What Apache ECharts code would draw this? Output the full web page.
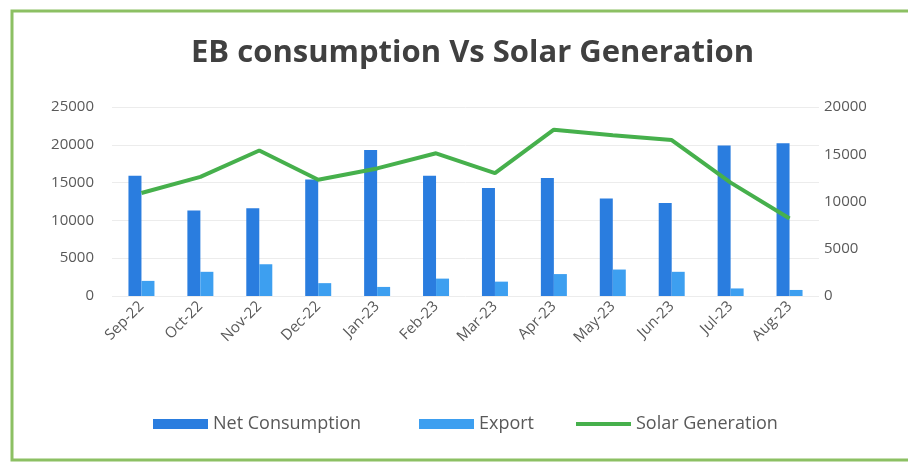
<!DOCTYPE html>
<html>
<head>
<meta charset="utf-8">
<script src="https://cdn.jsdelivr.net/npm/echarts@6/dist/echarts.min.js"></script>
<style>html,body{margin:0;padding:0;background:#fff;}#c{width:908px;height:462px;}</style>
</head>
<body>
<div id="c"></div>
<script>
const categories = ['Sep-22','Oct-22','Nov-22','Dec-22','Jan-23','Feb-23','Mar-23','Apr-23','May-23','Jun-23','Jul-23','Aug-23'];
const netConsumption = [15900, 11300, 11600, 15400, 19300, 15900, 14300, 15600, 12900, 12300, 19900, 20200];
const exportValues = [2000, 3200, 4200, 1700, 1200, 2300, 1900, 2900, 3500, 3200, 1000, 800];
const solarGeneration = [10900, 12600, 15400, 12300, 13500, 15100, 13000, 17600, 17000, 16500, 12000, 8200];
const leftTicks = [0, 5000, 10000, 15000, 20000, 25000];
const rightTicks = [0, 5000, 10000, 15000, 20000];

const chart = echarts.init(document.getElementById('c'), null, {renderer: 'canvas'});
const font = '"Open Sans", Lato, sans-serif';
const legendBase = {
  bottom: 24,
  itemWidth: 55,
  itemHeight: 10,
  textStyle: {fontFamily: font, fontSize: 18, color: '#595959'}
};
chart.setOption({
  animation: false,
  backgroundColor: '#ffffff',
  title: {
    text: 'EB consumption Vs Solar Generation',
    left: 186,
    top: 33,
    textStyle: {fontFamily: font, fontSize: 31, fontWeight: 'bold', color: '#404040'}
  },
  graphic: [{
    type: 'rect',
    shape: {x: 12, y: 11, width: 900, height: 449},
    style: {fill: 'none', stroke: '#8cc063', lineWidth: 3},
    silent: true
  }],
  legend: [
    Object.assign({}, legendBase, {left: 148, data: [{name: 'Net Consumption', icon: 'rect'}]}),
    Object.assign({}, legendBase, {left: 414, data: [{name: 'Export', icon: 'rect'}]}),
    Object.assign({}, legendBase, {left: 571, data: [{name: 'Solar Generation', icon: 'path://M0,0 L55,0 L55,4 L0,4 Z'}]})
  ],
  grid: {left: 112, right: 89, top: 107, bottom: 166},
  xAxis: {
    type: 'category',
    data: categories,
    axisTick: {show: false},
    axisLine: {show: false},
    axisLabel: {rotate: 45, fontFamily: font, fontSize: 15, color: '#595959', margin: 8}
  },
  yAxis: [{
    type: 'value',
    min: leftTicks[0],
    max: leftTicks[leftTicks.length - 1],
    interval: 5000,
    axisLine: {show: false},
    axisTick: {show: false},
    axisLabel: {fontFamily: font, fontSize: 15, color: '#595959', margin: 18, formatter: v => String(v)},
    splitLine: {lineStyle: {color: '#ececec', width: 1}}
  }, {
    type: 'value',
    min: rightTicks[0],
    max: rightTicks[rightTicks.length - 1],
    interval: 5000,
    axisLine: {show: false},
    axisTick: {show: false},
    axisLabel: {fontFamily: font, fontSize: 15, color: '#595959', margin: 5, formatter: v => String(v)},
    splitLine: {show: false}
  }],
  series: [{
    name: 'Net Consumption',
    type: 'bar',
    data: netConsumption,
    barWidth: 13,
    barGap: '0%',
    itemStyle: {color: '#2a7ddf'}
  }, {
    name: 'Export',
    type: 'bar',
    data: exportValues,
    barWidth: 13,
    itemStyle: {color: '#3d9ff0'}
  }, {
    name: 'Solar Generation',
    type: 'line',
    yAxisIndex: 1,
    data: solarGeneration,
    symbol: 'none',
    lineStyle: {color: '#46b04c', width: 4},
    itemStyle: {color: '#46b04c'}
  }]
});
</script>
</body>
</html>
